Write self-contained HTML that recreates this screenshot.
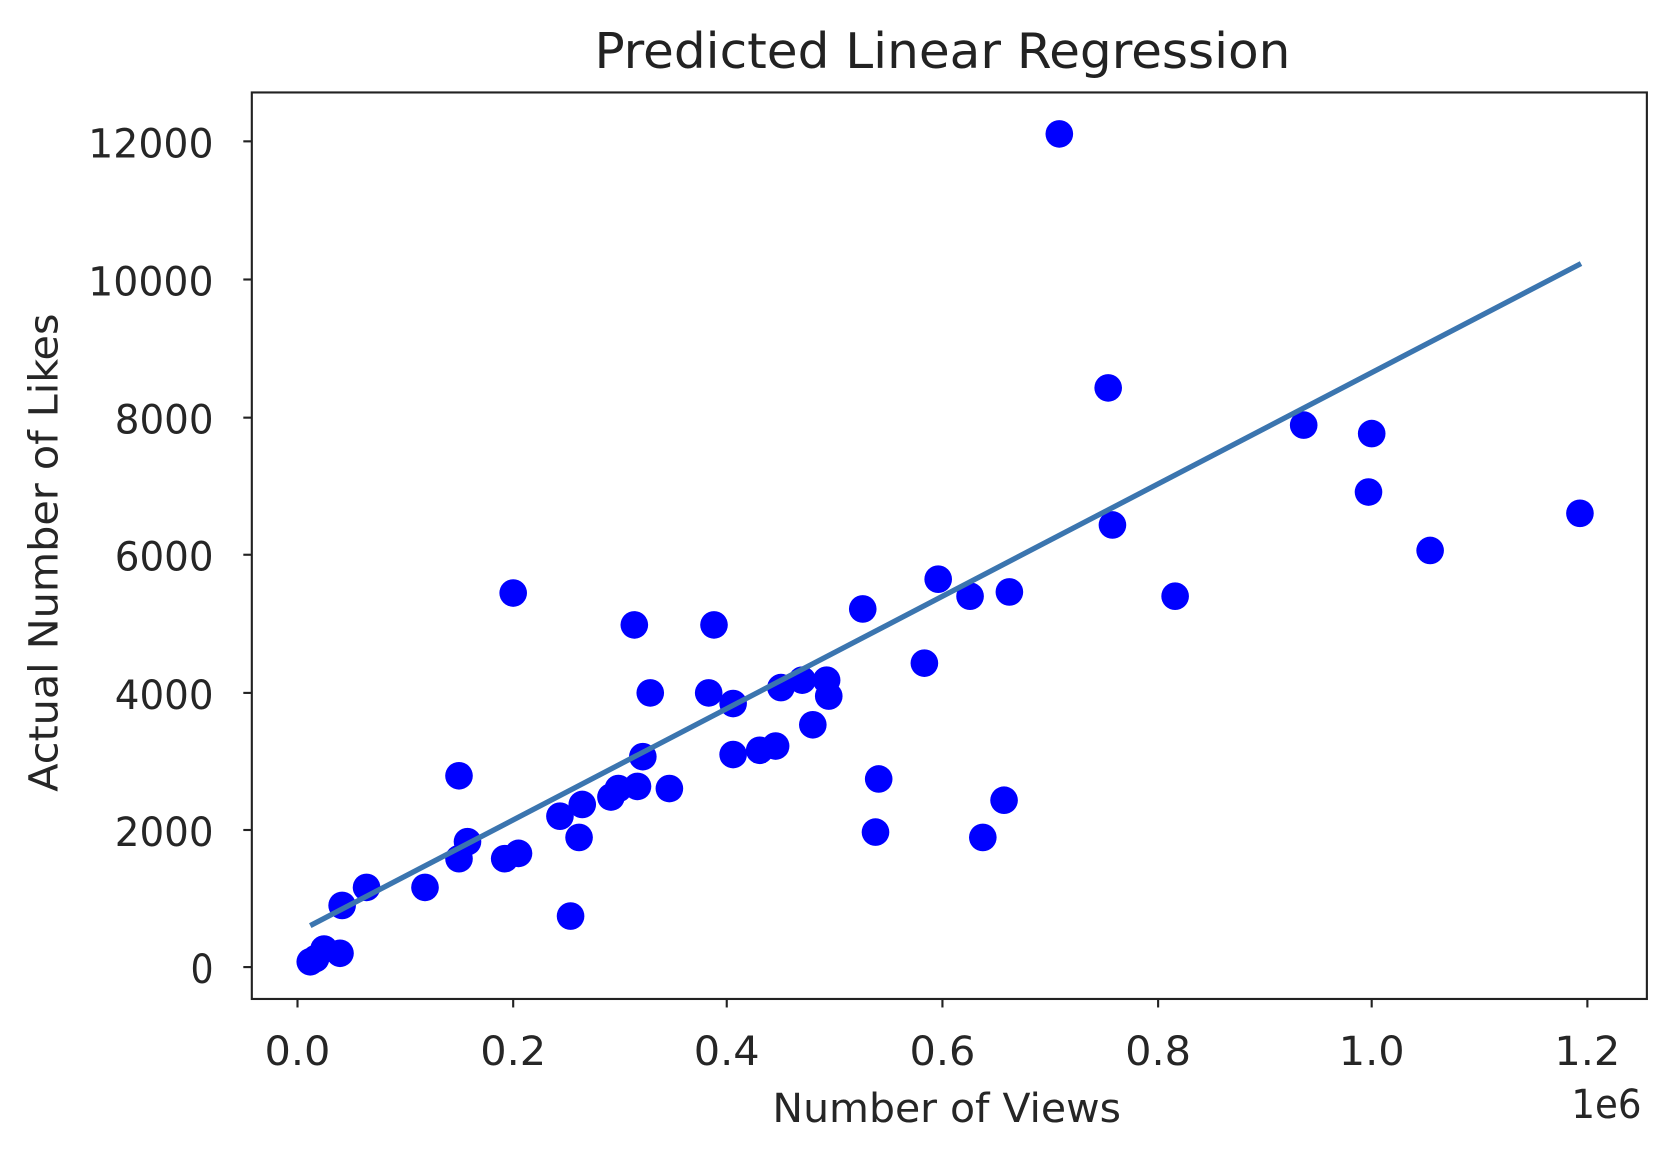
<!DOCTYPE html>
<html><head><meta charset="utf-8"><style>html,body{margin:0;padding:0;background:#fff}svg{display:block}</style></head>
<body>
<svg width="1666" height="1152" viewBox="0 0 1568 1084" preserveAspectRatio="none" xmlns="http://www.w3.org/2000/svg" font-family="'DejaVu Sans Condensed','DejaVu Sans','Liberation Sans',sans-serif" fill="#262626">
<rect width="1568" height="1084" fill="#fff"/>
<text x="887" y="64" font-size="46" text-anchor="middle" fill="#222" textLength="655" lengthAdjust="spacingAndGlyphs">Predicted Linear Regression</text>
<g fill="#0000ff">
<circle cx="292" cy="905" r="13"/><circle cx="297" cy="902" r="13"/><circle cx="305" cy="893" r="13"/><circle cx="320" cy="897" r="13"/>
<circle cx="322" cy="852" r="13"/><circle cx="345" cy="835" r="13"/><circle cx="400" cy="835" r="13"/><circle cx="432" cy="730" r="13"/>
<circle cx="432" cy="808" r="13"/><circle cx="440" cy="792" r="13"/><circle cx="475" cy="808" r="13"/><circle cx="488" cy="803" r="13"/>
<circle cx="483" cy="558" r="13"/><circle cx="527" cy="768" r="13"/><circle cx="537" cy="862" r="13"/><circle cx="545" cy="788" r="13"/>
<circle cx="548" cy="757" r="13"/><circle cx="575" cy="750" r="13"/><circle cx="582" cy="742" r="13"/><circle cx="597" cy="588" r="13"/>
<circle cx="600" cy="740" r="13"/><circle cx="605" cy="712" r="13"/><circle cx="612" cy="652" r="13"/><circle cx="630" cy="742" r="13"/>
<circle cx="667" cy="652" r="13"/><circle cx="672" cy="588" r="13"/><circle cx="690" cy="662" r="13"/><circle cx="690" cy="710" r="13"/>
<circle cx="715" cy="706" r="13"/><circle cx="730" cy="702" r="13"/><circle cx="735" cy="647" r="13"/><circle cx="755" cy="640" r="13"/>
<circle cx="765" cy="682" r="13"/><circle cx="778" cy="640" r="13"/><circle cx="780" cy="655" r="13"/><circle cx="812" cy="573" r="13"/>
<circle cx="827" cy="733" r="13"/><circle cx="824" cy="783" r="13"/><circle cx="870" cy="624" r="13"/><circle cx="883" cy="545" r="13"/>
<circle cx="913" cy="561" r="13"/><circle cx="925" cy="788" r="13"/><circle cx="945" cy="753" r="13"/><circle cx="950" cy="557" r="13"/>
<circle cx="997" cy="126" r="13"/><circle cx="1043" cy="365" r="13"/><circle cx="1047" cy="494" r="13"/><circle cx="1106" cy="561" r="13"/>
<circle cx="1227" cy="400" r="13"/><circle cx="1288" cy="463" r="13"/><circle cx="1291" cy="408" r="13"/><circle cx="1346" cy="518" r="13"/>
<circle cx="1487" cy="483" r="13"/>
</g>
<line x1="292" y1="871" x2="1488" y2="248" stroke="#3b75af" stroke-width="5"/>
<rect x="237" y="87" width="1313" height="853" fill="none" stroke="#222" stroke-width="2"/>
<g stroke="#222" stroke-width="2">
<line x1="229" y1="133" x2="237" y2="133"/><line x1="229" y1="263" x2="237" y2="263"/><line x1="229" y1="393" x2="237" y2="393"/>
<line x1="229" y1="522" x2="237" y2="522"/><line x1="229" y1="652" x2="237" y2="652"/><line x1="229" y1="781" x2="237" y2="781"/><line x1="229" y1="910" x2="237" y2="910"/>
<line x1="280" y1="940" x2="280" y2="948"/><line x1="483" y1="940" x2="483" y2="948"/><line x1="684" y1="940" x2="684" y2="948"/>
<line x1="887" y1="940" x2="887" y2="948"/><line x1="1090" y1="940" x2="1090" y2="948"/><line x1="1291" y1="940" x2="1291" y2="948"/><line x1="1494" y1="940" x2="1494" y2="948"/>
</g>
<g font-size="38" text-anchor="end">
<text x="201" y="148" textLength="118" lengthAdjust="spacingAndGlyphs">12000</text><text x="201" y="278" textLength="118" lengthAdjust="spacingAndGlyphs">10000</text>
<text x="201" y="408" textLength="93" lengthAdjust="spacingAndGlyphs">8000</text><text x="201" y="537" textLength="93" lengthAdjust="spacingAndGlyphs">6000</text>
<text x="201" y="667" textLength="93" lengthAdjust="spacingAndGlyphs">4000</text><text x="201" y="796" textLength="93" lengthAdjust="spacingAndGlyphs">2000</text>
<text x="201" y="925">0</text>
</g>
<g font-size="38" text-anchor="middle">
<text x="280" y="1002" textLength="62" lengthAdjust="spacingAndGlyphs">0.0</text><text x="483" y="1002" textLength="62" lengthAdjust="spacingAndGlyphs">0.2</text>
<text x="684" y="1002" textLength="62" lengthAdjust="spacingAndGlyphs">0.4</text><text x="887" y="1002" textLength="62" lengthAdjust="spacingAndGlyphs">0.6</text>
<text x="1090" y="1002" textLength="62" lengthAdjust="spacingAndGlyphs">0.8</text><text x="1291" y="1002" textLength="62" lengthAdjust="spacingAndGlyphs">1.0</text>
<text x="1494" y="1002" textLength="62" lengthAdjust="spacingAndGlyphs">1.2</text>
<text x="891" y="1056" textLength="328" lengthAdjust="spacingAndGlyphs">Number of Views</text>
</g>
<text x="1545" y="1052" font-size="38" text-anchor="end" textLength="66" lengthAdjust="spacingAndGlyphs">1e6</text>
<text transform="translate(54,520) rotate(-90)" font-size="38" text-anchor="middle" textLength="450" lengthAdjust="spacingAndGlyphs">Actual Number of Likes</text>
</svg>
</body></html>
